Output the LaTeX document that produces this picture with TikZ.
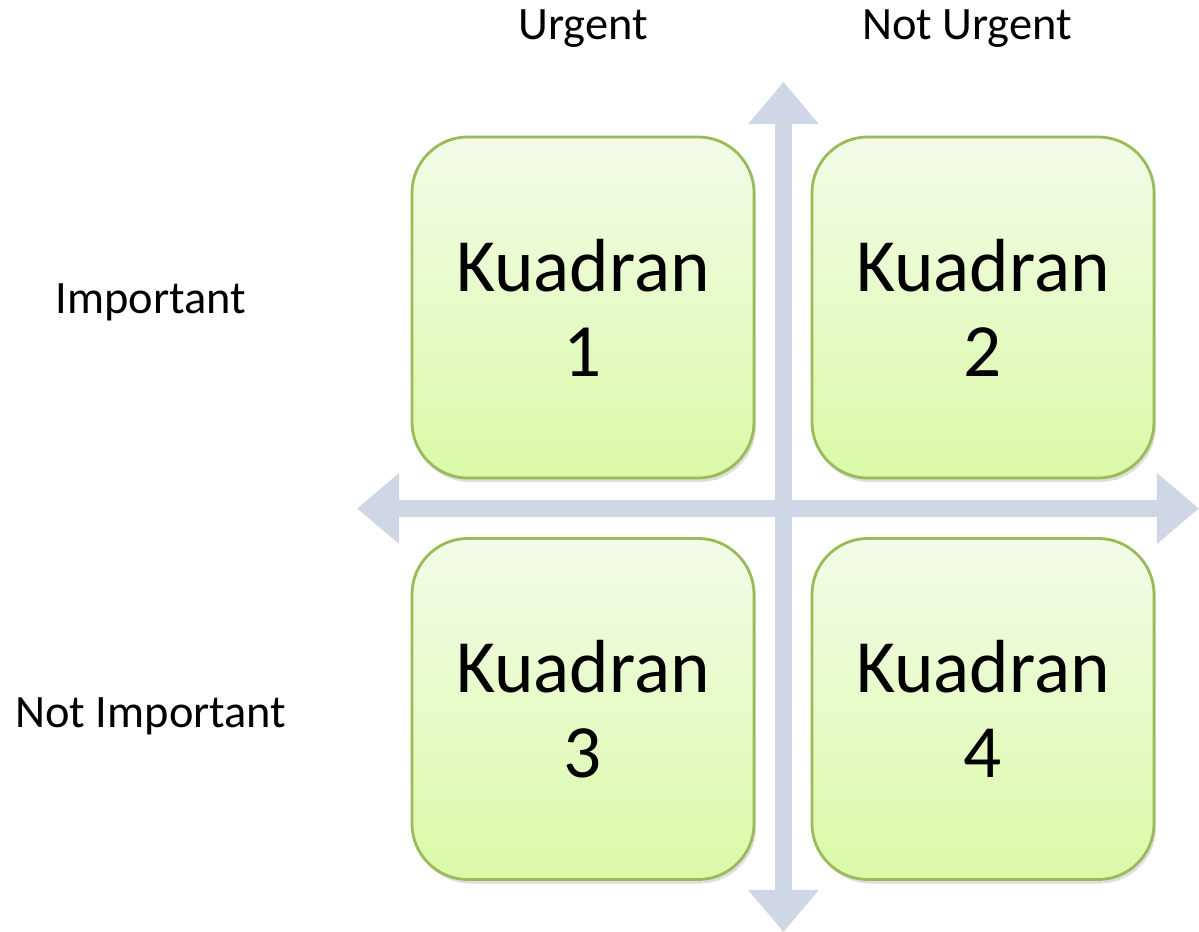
\documentclass[tikz,border=0pt]{standalone}
\usepackage{fontspec}
\setmainfont{Carlito}
\usetikzlibrary{arrows.meta,shadows}

\definecolor{axisblue}{RGB}{207,215,231}
\definecolor{boxedge}{RGB}{155,187,89}
\definecolor{boxtop}{RGB}{243,251,232}
\definecolor{boxbottom}{RGB}{218,250,168}

\begin{document}
\begin{tikzpicture}[x=0.025cm, y=-0.025cm,
    quad/.style={draw=boxedge, line width=2pt, rounded corners=1.4cm,
        top color=boxtop, bottom color=boxbottom,
        minimum width=8.55cm, minimum height=8.525cm, align=center,
        font=\fontsize{53.5}{60.5}\selectfont,
        drop shadow={opacity=0.25, shadow xshift=0.05cm, shadow yshift=-0.1cm}},
    axis/.style={axisblue, line width=0.425cm,
        {Triangle[width=1.7cm,length=1.05cm]}-{Triangle[width=1.7cm,length=1.05cm]}},
    lbl/.style={anchor=base, font=\fontsize{33}{38}\selectfont}]
    \useasboundingbox (0,0) rectangle (1199,932);

    % ends of the two axes
    \coordinate (up) at (783.5,82);
    \coordinate (down) at (783.5,932);
    \coordinate (west) at (357,508.5);
    \coordinate (east) at (1199,508.5);

    % axes
    \draw[axis] (up) -- (down);
    \draw[axis] (west) -- (east);

    % the four quadrants
    \node[quad] (q1) at (583,307.5) {Kuadran\\1};
    \node[quad] (q2) at (983,307.5) {Kuadran\\2};
    \node[quad] (q3) at (583,709) {Kuadran\\3};
    \node[quad] (q4) at (983,709) {Kuadran\\4};

    % labels
    \node[lbl] (urgent) at (583,40) {Urgent};
    \node[lbl] (noturgent) at (967,40) {Not Urgent};
    \node[lbl] (important) at (151,313) {Important};
    \node[lbl] (notimportant) at (151,727) {Not Important};
\end{tikzpicture}
\end{document}
